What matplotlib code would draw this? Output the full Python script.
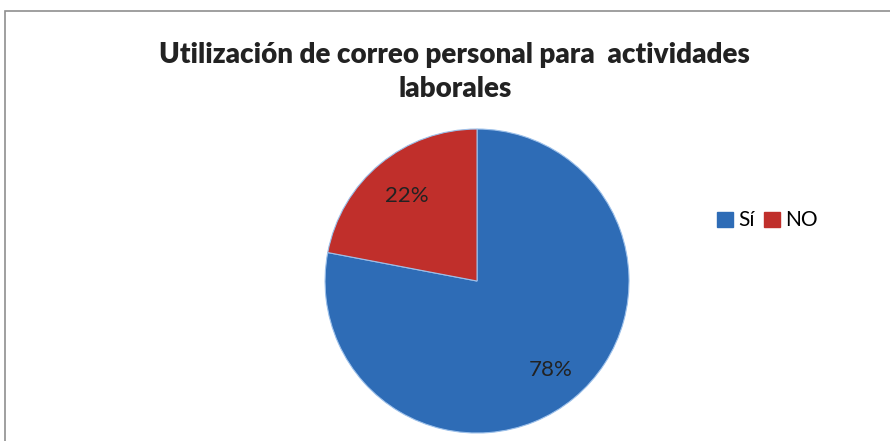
import matplotlib
matplotlib.use('Agg')
import matplotlib.pyplot as plt
import numpy as np
from matplotlib.patches import Rectangle, Patch

labels = ['Sí', 'NO']
values = [78, 22]
colors = ['#2e6cb6', '#c02f2b']
title = 'Utilización de correo personal para  actividades\nlaborales'

plt.rcParams['font.family'] = ['Lato', 'DejaVu Sans']

fig = plt.figure(figsize=(8.9, 4.41), dpi=100)

# outer chart frame (runs past the right and bottom edges)
fig.patches.append(Rectangle((5 / 890, -0.05), 1.0, 1 - 11 / 441 + 0.05,
                             transform=fig.transFigure, fill=False,
                             edgecolor='#8f8f8f', linewidth=1.2))

ax = fig.add_axes([0.3652, 0.0181, 0.3416, 0.6893])
wedges, texts = ax.pie(values, colors=colors, startangle=90, counterclock=False,
                       radius=1.0, wedgeprops=dict(edgecolor='#9cc0ea', linewidth=0.8))
ax.set_xlim(-1, 1)
ax.set_ylim(-1, 1)
ax.axis('off')

pct_pos = [0.76, 0.73]
for w, v, d in zip(wedges, values, pct_pos):
    ang = np.deg2rad((w.theta1 + w.theta2) / 2)
    ax.text(d * np.cos(ang), d * np.sin(ang), f'{v}%', ha='center', va='center',
            fontsize=16, color='#222222')

fig.text(0.511, 0.837, title, ha='center', va='center', fontsize=20,
         fontweight='heavy', color='#222222', linespacing=1.4)

handles = [Patch(facecolor=c, edgecolor=c) for c in colors]
fig.legend(handles, labels, loc='center left', bbox_to_anchor=(0.785, 0.5),
           ncol=2, frameon=False, fontsize=15, handlelength=0.75, handleheight=0.75,
           handletextpad=0.25, columnspacing=0.45)

plt.savefig('out.png', dpi=100)
